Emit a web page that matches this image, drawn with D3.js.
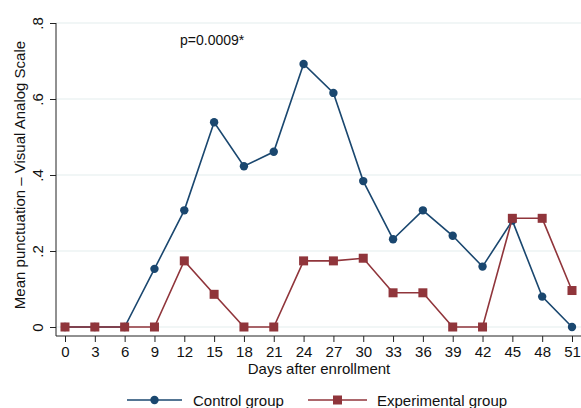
<!DOCTYPE html>
<html>
<head>
<meta charset="utf-8">
<script src="https://cdn.jsdelivr.net/npm/d3@7"></script>
<style>
  body { margin: 0; background: #fff; }
  text { font-family: "Liberation Sans", Arial, sans-serif; fill: #111; }
</style>
</head>
<body>
<div id="chart"></div>
<script>
// days after enrollment
const days = [0, 3, 6, 9, 12, 15, 18, 21, 24, 27, 30, 33, 36, 39, 42, 45, 48, 51];
const controlVals = [0, 0, 0, 0.153, 0.307, 0.539, 0.423, 0.461, 0.692, 0.616, 0.384, 0.231, 0.307, 0.240, 0.159, 0.280, 0.080, 0];
const experimentalVals = [0, 0, 0, 0, 0.174, 0.086, 0, 0, 0.174, 0.174, 0.181, 0.090, 0.090, 0, 0, 0.286, 0.286, 0.096];
const yTicks = [0, 0.2, 0.4, 0.6, 0.8];
const yTickLabels = ["0", ".2", ".4", ".6", ".8"];
const seriesNames = ["Control group", "Experimental group"];

const width = 581, height = 408;
const navy = "#1a476f", maroon = "#90353b";

const svg = d3.select("#chart").append("svg")
  .attr("width", width)
  .attr("height", height);

const x = d3.scaleLinear().domain([0, 51]).range([65, 572]);
const y = d3.scaleLinear().domain([0, 0.8]).range([327, 23]);

// grid lines
svg.append("g")
  .selectAll("line")
  .data(yTicks)
  .enter()
  .append("line")
  .attr("x1", 56)
  .attr("x2", width)
  .attr("y1", d => y(d))
  .attr("y2", d => y(d))
  .attr("stroke", "#e3eeee")
  .attr("stroke-width", 1.2);

// y axis
const yAxis = svg.append("g")
  .attr("transform", "translate(56,0)")
  .call(d3.axisLeft(y).tickValues(yTicks).tickSize(6).tickFormat((d, i) => yTickLabels[i]));
yAxis.select(".domain").attr("d", "M0,23V336").attr("stroke", "#222");
yAxis.selectAll(".tick line").attr("stroke", "#222");
yAxis.selectAll(".tick text")
  .attr("x", 0).attr("dy", 0)
  .attr("transform", "translate(-13,0) rotate(-90)")
  .attr("text-anchor", "middle")
  .style("font-size", "15px")
  .style("font-family", "'Liberation Sans', Arial, sans-serif")
  .attr("fill", "#111");

// x axis
const xAxis = svg.append("g")
  .attr("transform", "translate(0,336)")
  .call(d3.axisBottom(x).tickValues(days).tickSize(6).tickFormat(d3.format("d")));
xAxis.select(".domain").attr("d", "M56,0H" + width).attr("stroke", "#222");
xAxis.selectAll(".tick line").attr("stroke", "#222");
xAxis.selectAll(".tick text")
  .attr("y", 10)
  .style("font-size", "15px")
  .style("font-family", "'Liberation Sans', Arial, sans-serif")
  .attr("fill", "#111");

// axis titles
svg.append("text")
  .attr("x", 319)
  .attr("y", 374)
  .attr("text-anchor", "middle")
  .style("font-size", "15px")
  .text("Days after enrollment");

svg.append("text")
  .attr("transform", "translate(25,175) rotate(-90)")
  .attr("text-anchor", "middle")
  .style("font-size", "15px")
  .text("Mean punctuation \u2013 Visual Analog Scale");

svg.append("text")
  .attr("x", 180)
  .attr("y", 45)
  .style("font-size", "14px")
  .text("p=0.0009*");

const line = d3.line()
  .x((d, i) => x(days[i]))
  .y(d => y(d));

// control series
svg.append("path")
  .datum(controlVals)
  .attr("d", line)
  .attr("fill", "none")
  .attr("stroke", navy)
  .attr("stroke-width", 1.6);

svg.selectAll(".ctrl")
  .data(controlVals)
  .enter()
  .append("circle")
  .attr("class", "ctrl")
  .attr("cx", (d, i) => x(days[i]))
  .attr("cy", d => y(d))
  .attr("r", 4.2)
  .attr("fill", navy);

// experimental series
svg.append("path")
  .datum(experimentalVals)
  .attr("d", line)
  .attr("fill", "none")
  .attr("stroke", maroon)
  .attr("stroke-width", 1.6);

svg.selectAll(".exp")
  .data(experimentalVals)
  .enter()
  .append("rect")
  .attr("class", "exp")
  .attr("x", (d, i) => x(days[i]) - 4.5)
  .attr("y", d => y(d) - 4.5)
  .attr("width", 9)
  .attr("height", 9)
  .attr("fill", maroon);

// legend
const legend = svg.append("g");
const legendItems = [
  { name: seriesNames[0], color: navy, x1: 127, x2: 182, textX: 193, shape: "circle" },
  { name: seriesNames[1], color: maroon, x1: 308, x2: 367, textX: 377, shape: "square" }
];
const ly = 400;
legendItems.forEach(item => {
  legend.append("line")
    .attr("x1", item.x1).attr("x2", item.x2)
    .attr("y1", ly).attr("y2", ly)
    .attr("stroke", item.color)
    .attr("stroke-width", 1.6);
  const mid = (item.x1 + item.x2) / 2;
  if (item.shape === "circle") {
    legend.append("circle").attr("cx", mid).attr("cy", ly).attr("r", 4.2).attr("fill", item.color);
  } else {
    legend.append("rect").attr("x", mid - 4.5).attr("y", ly - 4.5).attr("width", 9).attr("height", 9).attr("fill", item.color);
  }
  legend.append("text")
    .attr("x", item.textX)
    .attr("y", ly + 5.5)
    .style("font-size", "15px")
    .text(item.name);
});
</script>
</body>
</html>
